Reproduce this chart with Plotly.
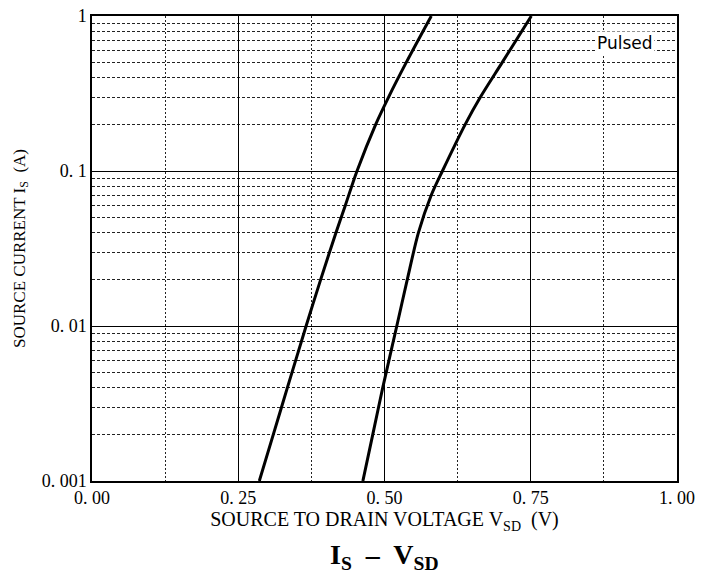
import plotly.graph_objects as go

# Curve 1 (left)
is_1 = [0.001, 0.002, 0.004, 0.01, 0.02, 0.04, 0.06, 0.1, 0.2, 0.3, 0.5, 1.0]
vsd_1 = [0.286, 0.310, 0.334, 0.366, 0.391, 0.417, 0.433, 0.453, 0.485, 0.507, 0.537, 0.580]

# Curve 2 (right)
is_2 = [0.001, 0.002, 0.004, 0.01, 0.02, 0.04, 0.07, 0.1, 0.2, 0.3, 0.5, 1.0]
vsd_2 = [0.463, 0.480, 0.497, 0.521, 0.539, 0.558, 0.580, 0.599, 0.638, 0.664, 0.701, 0.751]

x_tickvals = [0, 0.25, 0.5, 0.75, 1.0]
x_ticktext = ["0. 00", "0. 25", "0. 50", "0. 75", "1. 00"]
y_tickvals = [0.001, 0.01, 0.1, 1]
y_ticktext = ["0. 001", "0. 01", "0. 1", "1"]

serif = "Liberation Serif, DejaVu Serif, serif"

fig = go.Figure()
for xs, ys in [(vsd_1, is_1), (vsd_2, is_2)]:
    fig.add_trace(go.Scatter(x=xs, y=ys, mode="lines",
                             line=dict(color="black", width=3, shape="spline", smoothing=0.8),
                             showlegend=False, hoverinfo="skip"))

fig.update_layout(
    width=703, height=573,
    margin=dict(l=92, r=26, t=16, b=92),
    paper_bgcolor="white", plot_bgcolor="white",
    font=dict(family=serif, color="black"),
)

fig.update_xaxes(
    range=[0, 1], tickvals=x_tickvals, ticktext=x_ticktext, automargin=False,
    showgrid=True, gridcolor="black", gridwidth=1,
    zeroline=False, showline=True, linecolor="black", linewidth=1.5, mirror=True,
    ticks="", tickfont=dict(size=18, family=serif),
    minor=dict(dtick=0.125, showgrid=True, gridcolor="#222222", griddash="2px,2px", gridwidth=1),
    title=dict(text="SOURCE TO DRAIN VOLTAGE V<sub>SD</sub>  (V)", font=dict(size=20, family=serif), standoff=4),
)
fig.update_yaxes(
    type="log", range=[-3, 0], tickvals=y_tickvals, ticktext=y_ticktext, automargin=False,
    showgrid=True, gridcolor="black", gridwidth=1,
    zeroline=False, showline=True, linecolor="black", linewidth=1.5, mirror=True,
    ticks="", tickfont=dict(size=18, family=serif),
    minor=dict(dtick="D1", showgrid=True, gridcolor="#222222", griddash="3px,2px", gridwidth=1),
    title=dict(text="SOURCE CURRENT I<sub>S</sub>  (A)", font=dict(size=17, family=serif), standoff=12),
)

fig.add_annotation(x=0.962, y=0.942, xref="paper", yref="paper",
                   text="Pulsed", showarrow=False, xanchor="right", yanchor="middle",
                   font=dict(size=17, family="DejaVu Sans, sans-serif", color="black"),
                   bgcolor="white")
fig.add_annotation(x=0.5, y=-0.163, xref="paper", yref="paper",
                   text="<b>I<sub>S</sub>  –  V<sub>SD</sub></b>", showarrow=False,
                   xanchor="center", yanchor="middle",
                   font=dict(size=28, family=serif, color="black"))

fig.write_html("out.html")
